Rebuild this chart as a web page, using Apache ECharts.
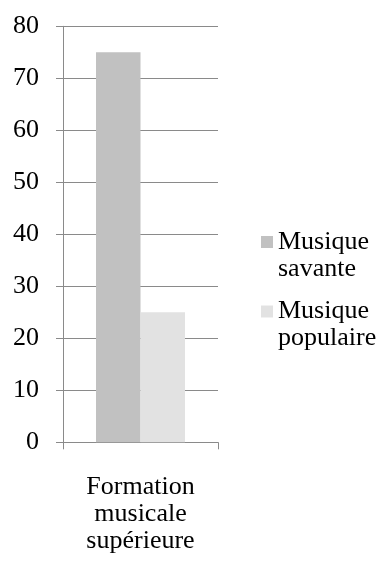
<!DOCTYPE html>
<html>
<head>
<meta charset="utf-8">
<style>
  html, body { margin: 0; padding: 0; background: #ffffff; }
  #chart { width: 387px; height: 561px; }
</style>
<script src="https://cdn.jsdelivr.net/npm/echarts@6/dist/echarts.min.js"></script>
</head>
<body>
<div id="chart"></div>
<script>
// Category and series values
const categories = ['Formation\nmusicale\nsupérieure'];
const seriesNames = ['Musique savante', 'Musique populaire'];
const savante = [75];
const populaire = [25];
const yTicks = { min: 0, max: 80, interval: 10 };

const FONT = 'Liberation Serif';
const FONT_SIZE = 26;
const GRID_COLOR = '#8a8a8a';
const COLORS = ['#c1c1c1', '#e2e2e2'];

const chart = echarts.init(document.getElementById('chart'), null, { renderer: 'canvas' });

// Legend labels break after the first word; a leading blank line keeps
// the marker level with the first word
function legendFor(name, top) {
  return {
    data: [name],
    orient: 'vertical',
    left: 261,
    top: top,
    padding: 0,
    itemWidth: 12,
    itemHeight: 12,
    icon: 'rect',
    selectedMode: false,
    formatter: n => ' \n' + n.replace(' ', '\n'),
    textStyle: {
      fontFamily: FONT,
      fontSize: FONT_SIZE,
      lineHeight: 27,
      color: '#000'
    }
  };
}

chart.setOption({
  animation: false,
  color: COLORS,
  grid: { left: 63, right: 169, top: 26.3, bottom: 118.7, containLabel: false },
  legend: [legendFor(seriesNames[0], 201.5), legendFor(seriesNames[1], 271)],
  xAxis: {
    type: 'category',
    data: categories,
    boundaryGap: true,
    axisLine: { show: true, lineStyle: { color: GRID_COLOR, width: 1 } },
    axisTick: { show: true, length: 7, lineStyle: { color: GRID_COLOR, width: 1 } },
    axisLabel: {
      margin: 31,
      fontFamily: FONT,
      fontSize: FONT_SIZE,
      lineHeight: 27,
      color: '#000',
      align: 'center'
    }
  },
  yAxis: {
    type: 'value',
    min: yTicks.min,
    max: yTicks.max,
    interval: yTicks.interval,
    axisLine: { show: true, lineStyle: { color: GRID_COLOR, width: 1 } },
    axisTick: { show: true, length: 7, lineStyle: { color: GRID_COLOR, width: 1 } },
    splitLine: { show: true, lineStyle: { color: GRID_COLOR, width: 1 } },
    axisLabel: {
      margin: 24,
      fontFamily: FONT,
      fontSize: FONT_SIZE,
      color: '#000'
    }
  },
  series: [
    {
      name: seriesNames[0],
      type: 'bar',
      data: savante,
      barGap: '0%',
      barCategoryGap: '42.6%',
      itemStyle: { color: COLORS[0] }
    },
    {
      name: seriesNames[1],
      type: 'bar',
      data: populaire,
      barGap: '0%',
      barCategoryGap: '42.6%',
      itemStyle: { color: COLORS[1] }
    }
  ]
});
</script>
</body>
</html>
